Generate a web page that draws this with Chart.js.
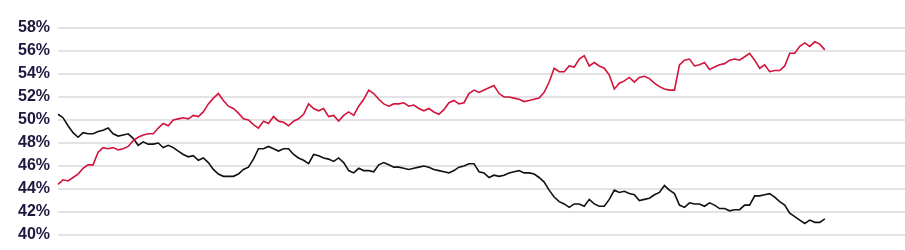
<!DOCTYPE html>
<html>
<head>
<meta charset="utf-8">
<script src="https://cdn.jsdelivr.net/npm/chart.js@4/dist/chart.umd.min.js"></script>
<style>
  html, body { margin: 0; padding: 0; background: #fff; }
  #wrap { width: 905px; height: 250px; position: relative; }
</style>
</head>
<body>
<div id="wrap"><canvas id="chart"></canvas></div>
<script>
  'use strict';

  // y-axis ticks shown on the left
  const yTicks = [40, 42, 44, 46, 48, 50, 52, 54, 56, 58];

  // red series (percent)
  const redSeries = [
    44.4, 44.8, 44.7, 45.0, 45.3, 45.8, 46.1, 46.1, 47.2, 47.6,
    47.5, 47.6, 47.4, 47.5, 47.7, 48.2, 48.5, 48.7, 48.8, 48.8,
    49.3, 49.7, 49.5, 50.0, 50.1, 50.2, 50.1, 50.4, 50.3, 50.7,
    51.4, 51.9, 52.3, 51.7, 51.2, 51.0, 50.6, 50.1, 50.0, 49.6,
    49.3, 49.9, 49.7, 50.3, 49.9, 49.8, 49.5, 49.9, 50.1, 50.5,
    51.4, 51.0, 50.8, 51.0, 50.3, 50.4, 49.9, 50.4, 50.7, 50.4,
    51.2, 51.8, 52.6, 52.3, 51.8, 51.4, 51.2, 51.4, 51.4, 51.5,
    51.2, 51.3, 51.0, 50.8, 51.0, 50.7, 50.5, 50.9, 51.5, 51.7,
    51.4, 51.5, 52.3, 52.6, 52.4, 52.6, 52.8, 53.0, 52.3, 52.0,
    52.0, 51.9, 51.8, 51.6, 51.7, 51.8, 51.9, 52.4, 53.3, 54.5,
    54.2, 54.2, 54.7, 54.6, 55.3, 55.6, 54.7, 55.0, 54.7, 54.5,
    53.9, 52.7, 53.2, 53.4, 53.7, 53.3, 53.7, 53.8, 53.6, 53.2,
    52.9, 52.7, 52.6, 52.6, 54.8, 55.2, 55.3, 54.7, 54.8, 55.0,
    54.4, 54.6, 54.8, 54.9, 55.2, 55.3, 55.2, 55.5, 55.8, 55.2,
    54.5, 54.8, 54.2, 54.3, 54.3, 54.7, 55.8, 55.8, 56.4, 56.7,
    56.4, 56.8, 56.6, 56.1
  ];

  // black series (percent)
  const blackSeries = [
    50.5, 50.2, 49.5, 48.9, 48.5, 48.9, 48.8, 48.8, 49.0, 49.1,
    49.3, 48.8, 48.6, 48.7, 48.8, 48.4, 47.8, 48.1, 47.9, 47.9,
    48.0, 47.6, 47.8, 47.6, 47.3, 47.0, 46.8, 46.9, 46.5, 46.7,
    46.3, 45.7, 45.3, 45.1, 45.1, 45.1, 45.3, 45.7, 45.9, 46.6,
    47.5, 47.5, 47.7, 47.5, 47.3, 47.5, 47.5, 47.0, 46.7, 46.5,
    46.2, 47.0, 46.9, 46.7, 46.6, 46.4, 46.7, 46.3, 45.6, 45.4,
    45.8, 45.6, 45.6, 45.5, 46.1, 46.3, 46.1, 45.9, 45.9, 45.8,
    45.7, 45.8, 45.9, 46.0, 45.9, 45.7, 45.6, 45.5, 45.4, 45.6,
    45.9, 46.0, 46.2, 46.2, 45.5, 45.4, 45.0, 45.2, 45.1, 45.2,
    45.4, 45.5, 45.6, 45.4, 45.4, 45.3, 45.0, 44.6, 43.9, 43.3,
    42.9, 42.7, 42.4, 42.7, 42.7, 42.5, 43.1, 42.7, 42.5, 42.5,
    43.1, 43.9, 43.7, 43.8, 43.6, 43.5, 43.0, 43.1, 43.2, 43.5,
    43.7, 44.3, 43.9, 43.6, 42.6, 42.4, 42.8, 42.7, 42.7, 42.5,
    42.8, 42.6, 42.3, 42.3, 42.1, 42.2, 42.2, 42.6, 42.6, 43.4,
    43.4, 43.5, 43.6, 43.3, 42.9, 42.6, 41.9, 41.6, 41.3, 41.0,
    41.3, 41.1, 41.1, 41.4
  ];

  // x categories (the plot runs on past the last data point)
  const periods = Array.from({ length: 170 }, (_, i) => String(i));

  const labelColor = '#1f1740';
  const gridColor = '#e3e3e6';

  new Chart(document.getElementById('chart'), {
    type: 'line',
    data: {
      labels: periods,
      datasets: [
        {
          data: redSeries,
          borderColor: '#d2143c',
          borderWidth: 1.6,
          pointRadius: 0,
          tension: 0
        },
        {
          data: blackSeries,
          borderColor: '#111111',
          borderWidth: 1.6,
          pointRadius: 0,
          tension: 0
        }
      ]
    },
    options: {
      responsive: true,
      maintainAspectRatio: false,
      animation: false,
      layout: { padding: { top: 28, bottom: 15, left: 0, right: 0 } },
      plugins: {
        legend: { display: false },
        tooltip: { enabled: false }
      },
      scales: {
        x: {
          display: false,
          offset: false
        },
        y: {
          min: 40,
          max: 58,
          afterBuildTicks: (s) => { s.ticks = yTicks.map((v) => ({ value: v })); },
          afterFit: (s) => {
            s.width = 58;
            s.paddingTop = 0;
            s.paddingBottom = 0;
          },
          border: { display: false },
          grid: { color: gridColor, lineWidth: 2, drawTicks: false },
          ticks: {
            color: labelColor,
            padding: 8,
            font: { family: "'Liberation Sans', Arial, sans-serif", size: 16, weight: 'bold' },
            callback: (v) => v + '%'
          }
        }
      }
    }
  });
</script>
</body>
</html>
